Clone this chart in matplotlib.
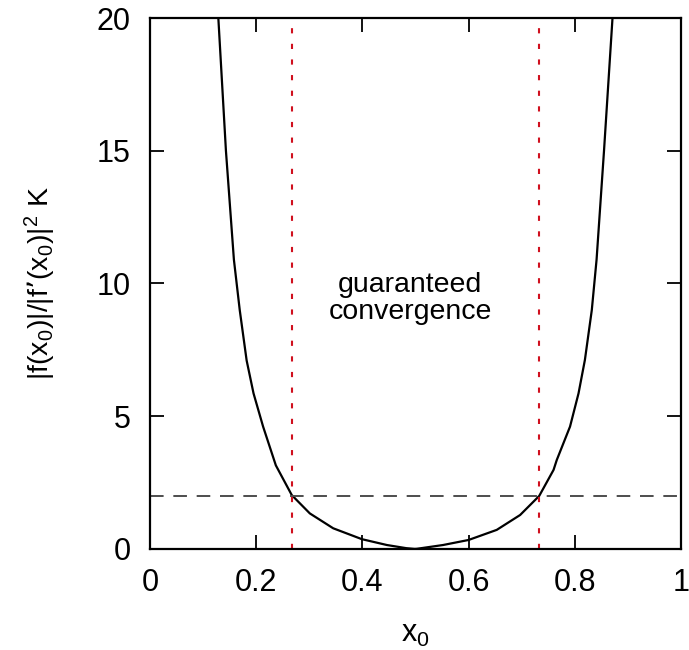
import matplotlib

matplotlib.use("Agg")

import matplotlib.pyplot as plt


# ============================================================
# DATA
# ============================================================

left_x0 = [0.1287, 0.143, 0.158, 0.169, 0.182, 0.195, 0.213, 0.237,
           0.267, 0.301, 0.345, 0.399, 0.446, 0.483, 0.500]
left_ratio = [20.0, 15.0, 10.9, 9.0, 7.1, 5.86, 4.61, 3.15,
              2.03, 1.34, 0.78, 0.37, 0.15, 0.03, 0.0]

right_x0 = [0.500, 0.552, 0.600, 0.653, 0.697, 0.733, 0.760, 0.766,
            0.791, 0.807, 0.819, 0.832, 0.841, 0.855, 0.871]
right_ratio = [0.0, 0.15, 0.34, 0.72, 1.28, 2.0, 2.98, 3.35,
               4.61, 5.86, 7.12, 9.0, 10.9, 15.0, 20.0]

threshold = 2.0
bounds = [0.267, 0.733]

x_ticks = [0, 0.2, 0.4, 0.6, 0.8, 1]
x_tick_labels = ["0", "0.2", "0.4", "0.6", "0.8", "1"]
y_ticks = [0, 5, 10, 15, 20]


def main():
    plt.rcParams["font.family"] = ["Liberation Sans", "DejaVu Sans"]
    plt.rcParams["mathtext.default"] = "regular"

    figure = plt.figure(figsize=(6.89, 6.5), dpi=100)
    axis = figure.add_axes([0.2177, 0.1554, 0.7707, 0.8169])

    # ============================================================
    # CURVES
    # ============================================================

    axis.plot(left_x0, left_ratio, color="black", linewidth=1.6)
    axis.plot(right_x0, right_ratio, color="black", linewidth=1.6)

    axis.axhline(
        threshold,
        color="#4d4d4d",
        linewidth=1.4,
        dashes=(7, 5),
    )

    for bound in bounds:
        axis.axvline(
            bound,
            color="#d0101e",
            linewidth=1.5,
            dashes=(2.5, 5),
        )

    axis.text(
        0.49,
        9.45,
        "guaranteed\nconvergence",
        ha="center",
        va="center",
        fontsize=20.5,
        linespacing=1.05,
    )

    # ============================================================
    # AXES
    # ============================================================

    axis.set_xlim(0, 1)
    axis.set_ylim(0, 20)
    axis.set_xticks(x_ticks)
    axis.set_xticklabels(x_tick_labels)
    axis.set_yticks(y_ticks)

    axis.tick_params(
        direction="in",
        top=True,
        right=True,
        length=10,
        width=1.3,
        labelsize=22,
        pad=14,
    )
    for spine in axis.spines.values():
        spine.set_linewidth(1.6)

    axis.set_xlabel("$x_0$", fontsize=22, labelpad=15)
    axis.set_ylabel(
        "$|f(x_0)|/|f$\u2019$(x_0)|^2$ K",
        fontsize=20.5,
        labelpad=28,
    )

    figure.savefig("out.png", dpi=100)


if __name__ == "__main__":
    main()
